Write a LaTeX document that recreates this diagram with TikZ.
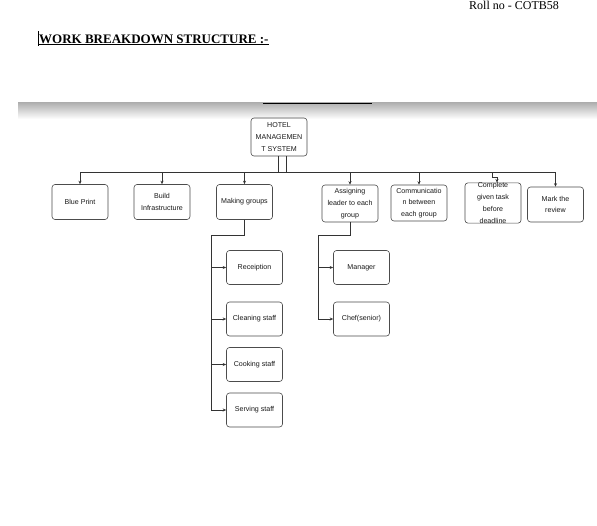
\documentclass[tikz,border=0pt]{standalone}
\usepackage{fontspec}
\setmainfont{Liberation Serif}
\setsansfont{Liberation Sans}
\usetikzlibrary{arrows.meta}
\tikzset{
  wbox/.style={draw=black!70, line width=0.6pt, rounded corners=3pt, align=center,
    font=\sffamily\fontsize{7.1}{11.7}\selectfont, inner sep=0pt,
    minimum width=56pt, minimum height=35pt, text=black!90},
  conn/.style={draw=black!80, line width=0.7pt},
  arr/.style={conn, -{Stealth[length=3.5pt,width=3pt]}}
}
\begin{document}
\begin{tikzpicture}[x=1pt,y=-1pt]
\useasboundingbox (0,0) rectangle (597,525);
\fill[white] (0,0) rectangle (597,525);
% header
\node[anchor=base west, inner sep=0pt, font=\fontsize{12}{14}\selectfont] (roll) at (469,9.5) {Roll no - COTB58};
\node[anchor=base west, inner sep=0pt, font=\bfseries\fontsize{13}{15}\selectfont] (title) at (39,43) {\underline{WORK BREAKDOWN STRUCTURE :-}};
\draw[line width=0.6pt] (38,31) -- (38,46);
% band
\shade[top color=gray!65, bottom color=white] (18,102) rectangle (597,119);
\draw[line width=0.9pt] (263,103) -- (372,103);
% root
\node[wbox, minimum height=38pt] (root) at (279,137) {HOTEL\\MANAGEMEN\\T SYSTEM};
% level 1
\node[wbox] (bp) at (80,202) {Blue Print};
\node[wbox] (bi) at (162,202) {Build\\Infrastructure};
\node[wbox] (mg) at (244.5,202) {Making groups};
\node[wbox, minimum height=37pt] (al) at (350,203.5) {Assigning\\leader to each\\group};
\node[wbox, minimum height=36pt] (cm) at (419,203) {Communicatio\\n between\\each group};
\node[wbox, minimum height=40pt] (ct) at (493,203) {Complete\\given task\\before\\deadline};
\node[wbox] (mr) at (555.5,204.5) {Mark the\\review};
% level 2
\node[wbox, minimum height=34pt] (rc) at (254.5,267.5) {Receiption};
\node[wbox, minimum height=34pt] (cs) at (254.5,319) {Cleaning staff};
\node[wbox, minimum height=34pt] (ck) at (254.5,364.5) {Cooking staff};
\node[wbox, minimum height=34pt] (sv) at (254.5,410) {Serving staff};
\node[wbox, minimum height=34pt] (mn) at (361.5,267.5) {Manager};
\node[wbox, minimum height=34pt] (ch) at (361.5,319) {Chef(senior)};
% bus
\coordinate (busL) at (80,172);
\coordinate (busR) at (556,172);
\draw[conn] (busL) -- (busR);
\draw[conn] ([xshift=-1pt]root.south) -- ([xshift=-1pt]root.south |- busL);
\draw[conn] ([xshift=7pt]root.south) -- ([xshift=7pt]root.south |- busL);
\draw[arr] (bp.north |- busL) -- (bp.north);
\draw[arr] (bi.north |- busL) -- (bi.north);
\draw[arr] (mg.north |- busL) -- (mg.north);
\draw[arr] (al.north |- busL) -- (al.north);
\draw[arr] (cm.north |- busL) -- (cm.north);
\coordinate (ctstep) at (492,172);
\draw[arr] (ctstep) -- ++(0,5) -- ++(5,0) -- ([xshift=4pt]ct.north);
\draw[arr] (mr.north |- busL) -- (mr.north);
% making groups children
\coordinate (mgJ) at (211,235);
\draw[conn] (mg.south) |- (mgJ) -- (mgJ |- sv.west);
\draw[arr] (mgJ |- rc.west) -- (rc.west);
\draw[arr] (mgJ |- cs.west) -- (cs.west);
\draw[arr] (mgJ |- ck.west) -- (ck.west);
\draw[arr] (mgJ |- sv.west) -- (sv.west);
% assigning leader children
\coordinate (alJ) at (318,235);
\draw[conn] (al.south) |- (alJ) -- (alJ |- ch.west);
\draw[arr] (alJ |- mn.west) -- (mn.west);
\draw[arr] (alJ |- ch.west) -- (ch.west);
\end{tikzpicture}
\end{document}
